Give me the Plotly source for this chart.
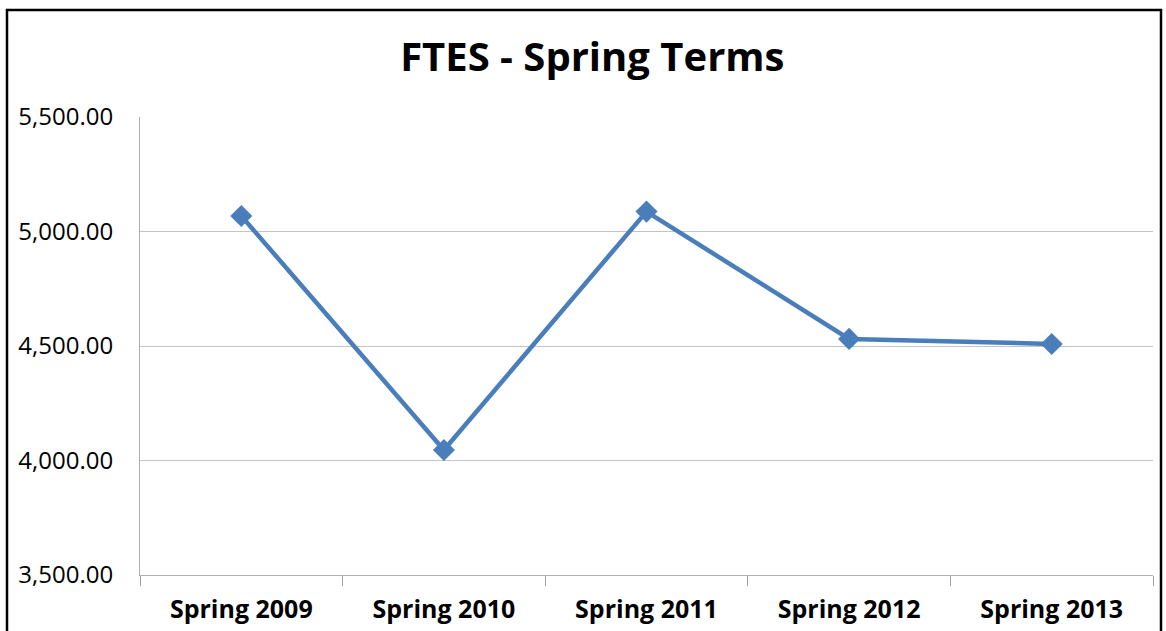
import plotly.graph_objects as go

terms = ["Spring 2009", "Spring 2010", "Spring 2011", "Spring 2012", "Spring 2013"]
ftes = [5068, 4046, 5087, 4531, 4509]
y_ticks = [3500, 4000, 4500, 5000, 5500]

fig = go.Figure(go.Scatter(
    x=terms, y=ftes,
    mode="lines+markers",
    line={"color": "#4A7EBB", "width": 4.5},
    marker={"symbol": "diamond", "size": 17, "color": "#4A7EBB"},
))

fig.update_layout(
    width=1166, height=631,
    margin={"l": 140, "r": 13, "t": 117, "b": 56},
    paper_bgcolor="white", plot_bgcolor="white",
    showlegend=False,
    title={"text": "<b>FTES - Spring Terms</b>", "x": 0.508, "xanchor": "center",
           "y": 0.91, "yanchor": "middle",
           "font": {"family": "Open Sans", "size": 40, "color": "black"}},
    font={"family": "Open Sans", "color": "black"},
)

fig.update_xaxes(
    type="category", range=[-0.5, len(terms) - 0.5], tickson="boundaries",
    ticks="outside", ticklen=10, tickcolor="#a0a0a0", tickwidth=1,
    showline=True, linecolor="#b0b0b0", linewidth=1,
    showgrid=False, automargin=False,
    tickfont={"size": 25, "family": "Open Sans"},
    tickprefix="<b>", ticksuffix="</b>",
    ticklabelstandoff=12,
)

fig.update_yaxes(
    range=[3500, 5500], tickvals=y_ticks, tickformat=",.2f",
    showline=True, linecolor="#b0b0b0", linewidth=1,
    showgrid=True, gridcolor="#c4c4c4", gridwidth=1,
    zeroline=False, ticks="", ticklabelstandoff=21, automargin=False,
    tickfont={"size": 24, "family": "Open Sans"},
)

# outer border of the chart image
fig.add_shape(type="rect", xref="paper", yref="paper",
              x0=-0.1313, x1=1.0079, y0=-0.3, y1=1.2336,
              line={"color": "black", "width": 2.5}, layer="above")

# drop the default 8px body margin so the figure sits at the page origin
fig.write_html("out.html",
               config={"displayModeBar": False},
               post_script="document.body.style.margin='0';"
                           "document.body.style.overflow='hidden';")
